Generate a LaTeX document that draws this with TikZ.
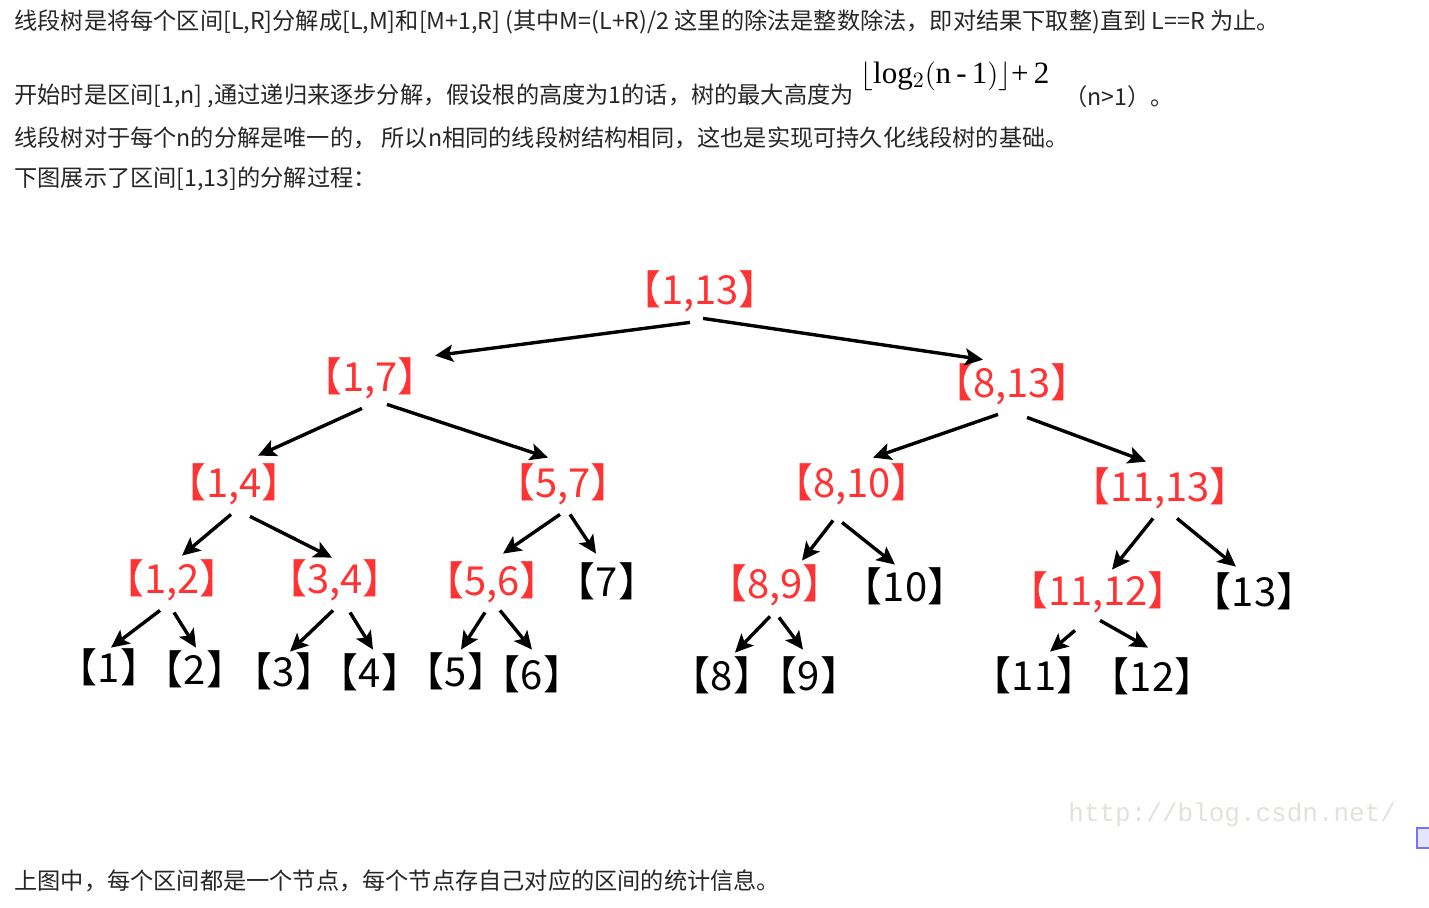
\documentclass[tikz,border=0pt]{standalone}
\usepackage{fontspec}
\setmainfont{Noto Sans CJK SC}
\newfontfamily\markfont{Liberation Mono}
\newfontfamily\formfont{Liberation Serif}
\usetikzlibrary{arrows.meta}
\definecolor{segred}{RGB}{255,51,51}
\definecolor{wmgray}{RGB}{226,226,220}

\begin{document}
\begin{tikzpicture}[x=0.5pt,y=-0.5pt,every node/.style={inner sep=1pt},
  para/.style={anchor=west,font=\fontsize{11.6}{13}\selectfont,text=black!85},
  seg/.style={font=\fontsize{20}{24}\selectfont,text=segred,text height=15pt,text depth=4pt},
  leaf/.style={seg,text=black},
  arr/.style={-{Stealth[length=9pt,width=8.5pt,inset=2pt]},line width=1.7pt}]
\useasboundingbox (0,0) rectangle (1429,907);
% text above and below the tree
\node[para] (t1) at (12,22) {线段树是将每个区间[L,R]分解成[L,M]和[M+1,R] (其中M=(L+R)/2 这里的除法是整数除法，即对结果下取整)直到 L==R 为止。};
\node[para] (t2) at (12,96) {开始时是区间[1,n] ,通过递归来逐步分解，假设根的高度为1的话，树的最大高度为};
\node[anchor=west,font=\formfont\fontsize{15.5}{18}\selectfont] (ht) at (858,76) {$\bigl\lfloor$log$_2$$\bigl($n\,-\,1$\bigr)\bigr\rfloor$+\,2};
\node[para] (t2b) at (1062,97) {（n>1）。};
\node[para] (t3) at (12,138) {线段树对于每个n的分解是唯一的， 所以n相同的线段树结构相同，这也是实现可持久化线段树的基础。};
\node[para] (t4) at (12,179) {下图展示了区间[1,13]的分解过程：};
\node[para] (t5) at (12,881) {上图中，每个区间都是一个节点，每个节点存自己对应的区间的统计信息。};
\node[anchor=west,text=wmgray,font=\markfont\fontsize{13}{15}\selectfont] (wm) at (1066,815) {http://blog.csdn.net/};
\draw[blue!55,fill=blue!10,line width=1pt] (1417,828) rectangle (1430,848);
% tree
\node[seg] (r) at (700,293) {【1,13】};
\node[seg] (a) at (370,380) {【1,7】};
\node[seg] (b) at (1012,386) {【8,13】};
\node[seg] (c) at (234,486) {【1,4】};
\node[seg] (d) at (563,486) {【5,7】};
\node[seg] (e) at (852,486) {【8,10】};
\node[seg] (f) at (1160,490) {【11,13】};
\node[seg] (g) at (172,582) {【1,2】};
\node[seg] (h) at (335,582) {【3,4】};
\node[seg] (i) at (492,584) {【5,6】};
\node[leaf] (l7) at (607,585) {【7】};
\node[seg] (k) at (775,587) {【8,9】};
\node[leaf] (l10) at (905,590) {【10】};
\node[seg] (m) at (1098,594) {【11,12】};
\node[leaf] (l13) at (1254,595) {【13】};
\node[leaf] (l1) at (109,671) {【1】};
\node[leaf] (l2) at (195,673) {【2】};
\node[leaf] (l3) at (284,675) {【3】};
\node[leaf] (l4) at (370,676) {【4】};
\node[leaf] (l5) at (456,675) {【5】};
\node[leaf] (l6) at (532,678) {【6】};
\node[leaf] (l8) at (722,679) {【8】};
\node[leaf] (l9) at (809,679) {【9】};
\node[leaf] (l11) at (1034,679) {【11】};
\node[leaf] (l12) at (1152,680) {【12】};
\draw[arr] ([shift={(-10,8)}]r.south) -- ([shift={(65,-3)}]a.north); \draw[arr] ([shift={(3,4)}]r.south) -- ([shift={(-29,-5)}]b.north);
\draw[arr] ([shift={(-8,7)}]a.south) -- ([shift={(24,-9)}]c.north); \draw[arr] ([shift={(17,3)}]a.south) -- ([shift={(-15,-7)}]d.north);
\draw[arr] ([shift={(-14,7)}]b.south) -- ([shift={(21,-7)}]e.north); \draw[arr] ([shift={(15,10)}]b.south) -- ([shift={(-14,-7)}]f.north);
\draw[arr] ([shift={(-3,7)}]c.south) -- ([shift={(10,-5)}]g.north); \draw[arr] ([shift={(16,9)}]c.south) -- ([shift={(-3,-3)}]h.north);
\draw[arr] ([shift={(-3,7)}]d.south) -- ([shift={(11,-9)}]i.north); \draw[arr] ([shift={(7,7)}]d.south) -- ([shift={(-11,-10)}]l7.north);
\draw[arr] ([shift={(-19,13)}]e.south) -- ([shift={(27,-5)}]k.north); \draw[arr] ([shift={(-10,15)}]e.south) -- ([shift={(-10,-4)}]l10.north);
\draw[arr] ([shift={(-7,7)}]f.south) -- ([shift={(14,-3)}]m.north); \draw[arr] ([shift={(17,7)}]f.south) -- ([shift={(-18,-7)}]l13.north);
\draw[arr] ([shift={(-12,7)}]g.south) -- ([shift={(2,-2)}]l1.north); \draw[arr] ([shift={(2,9)}]g.south) -- ([shift={(1,-4)}]l2.north);
\draw[arr] ([shift={(-2,7)}]h.south) -- ([shift={(6,-2)}]l3.north); \draw[arr] ([shift={(15,9)}]h.south) -- ([shift={(3,-5)}]l4.north);
\draw[arr] ([shift={(-7,7)}]i.south) -- ([shift={(5,-4)}]l5.north); \draw[arr] ([shift={(8,5)}]i.south) -- ([shift={(0,-7)}]l6.north);
\draw[arr] ([shift={(-5,8)}]k.south) -- ([shift={(13,-5)}]l8.north); \draw[arr] ([shift={(4,9)}]k.south) -- ([shift={(-6,-8)}]l9.north);
\draw[arr] ([shift={(-23,15)}]m.south) -- ([shift={(16,-6)}]l11.north); \draw[arr] ([shift={(2,5)}]m.south) -- ([shift={(-4,-11)}]l12.north);
\end{tikzpicture}
\end{document}
